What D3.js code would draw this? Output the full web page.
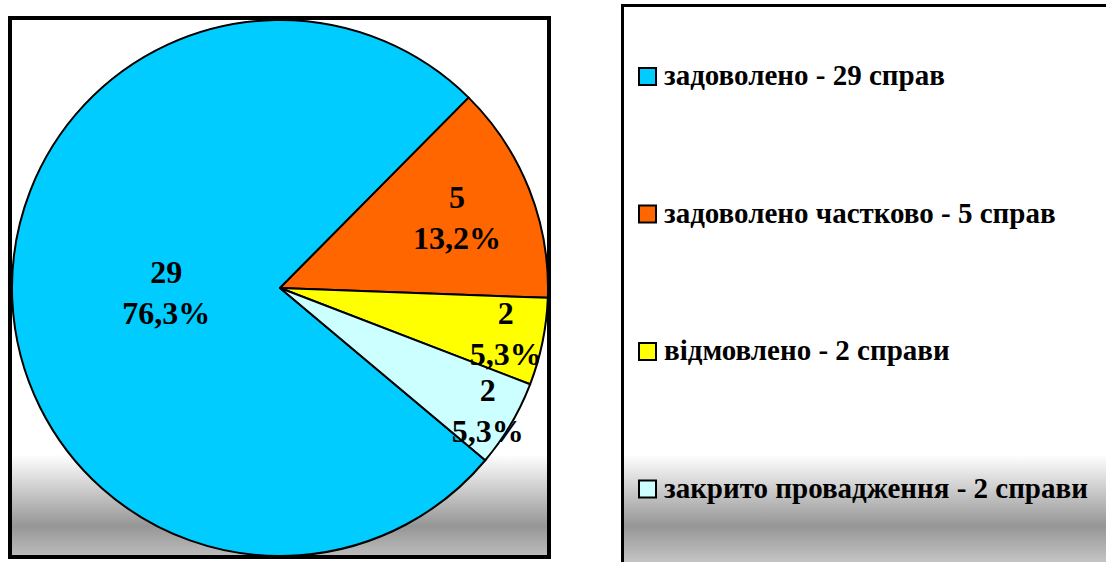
<!DOCTYPE html>
<html lang="uk">
<head>
<meta charset="UTF-8">
<title>Результати розгляду справ</title>
<script src="https://cdn.jsdelivr.net/npm/d3@7"></script>
<style>
  body { margin: 0; background: #fff; }
  svg { display: block; }
</style>
</head>
<body>
<script>
// дані
var categories = ["задоволено", "задоволено частково", "відмовлено", "закрито провадження"];
var values = [29, 5, 2, 2];
var legendLabels = ["задоволено - 29 справ", "задоволено частково - 5 справ", "відмовлено - 2 справи", "закрито провадження - 2 справи"];
var colors = ["#00ccff", "#ff6600", "#ffff00", "#ccffff"];

var width = 1106, height = 562;
var font = "'Liberation Serif', 'Times New Roman', serif";

var svg = d3.select("body").append("svg")
    .attr("width", width)
    .attr("height", height);

// градієнт фону (білий -> сірий внизу)
var defs = svg.append("defs");
var grad = defs.append("linearGradient")
    .attr("id", "bg")
    .attr("gradientUnits", "userSpaceOnUse")
    .attr("x1", 0).attr("y1", 0).attr("x2", 0).attr("y2", 562);
grad.append("stop").attr("offset", 455 / 562).attr("stop-color", "#ffffff");
grad.append("stop").attr("offset", 526 / 562).attr("stop-color", "#969696");
grad.append("stop").attr("offset", 1).attr("stop-color", "#c4c4c4");

// рамка діаграми
svg.append("rect")
    .attr("x", 10).attr("y", 18)
    .attr("width", 539).attr("height", 539)
    .attr("fill", "url(#bg)")
    .attr("stroke", "#000")
    .attr("stroke-width", 4);

// рамка легенди
svg.append("rect")
    .attr("x", 622.5).attr("y", 5.5)
    .attr("width", 500).attr("height", 600)
    .attr("fill", "url(#bg)")
    .attr("stroke", "#000")
    .attr("stroke-width", 3);

var cx = 280, cy = 288, r = 268;
var total = d3.sum(values);

var start = 130 * Math.PI / 180;
var pie = d3.pie().sort(null)
    .startAngle(start)
    .endAngle(start + 2 * Math.PI);
var arcs = pie(values);

var arc = d3.arc().innerRadius(0).outerRadius(r);

var g = svg.append("g").attr("transform", "translate(" + cx + "," + cy + ")");

g.selectAll("path")
    .data(arcs)
    .enter().append("path")
    .attr("d", arc)
    .attr("fill", function (d, i) { return colors[i]; })
    .attr("stroke", "#000")
    .attr("stroke-width", 2)
    .attr("stroke-linejoin", "round");

// підписи (радіус як частка від r)
var labelR = [0.425, 0.71, 0.86, 0.9];
var labels = g.selectAll("text.lbl")
    .data(arcs)
    .enter().append("text")
    .attr("class", "lbl")
    .attr("transform", function (d, i) {
        var a = (d.startAngle + d.endAngle) / 2;
        var rr = r * labelR[i];
        return "translate(" + (rr * Math.sin(a)) + "," + (-rr * Math.cos(a)) + ")";
    })
    .attr("text-anchor", "middle")
    .style("font-family", font)
    .style("font-weight", "bold")
    .style("font-size", "32px");

labels.append("tspan")
    .attr("x", 0).attr("y", -10)
    .text(function (d) { return d.data; });
labels.append("tspan")
    .attr("x", 0).attr("y", 31)
    .text(function (d) { return (d.data / total * 100).toFixed(1).replace(".", ",") + "%"; });

// легенда
var legend = svg.append("g");
var item = legend.selectAll("g")
    .data(legendLabels)
    .enter().append("g")
    .attr("transform", function (d, i) { return "translate(639," + (85 + i * 137.5) + ")"; });

item.append("rect")
    .attr("x", 0).attr("y", -17)
    .attr("width", 17).attr("height", 17)
    .attr("fill", function (d, i) { return colors[i]; })
    .attr("stroke", "#000")
    .attr("stroke-width", 2);

item.append("text")
    .attr("x", 25).attr("y", 0)
    .style("font-family", font)
    .style("font-weight", "bold")
    .style("font-size", "29px")
    .text(function (d) { return d; });
</script>
</body>
</html>
